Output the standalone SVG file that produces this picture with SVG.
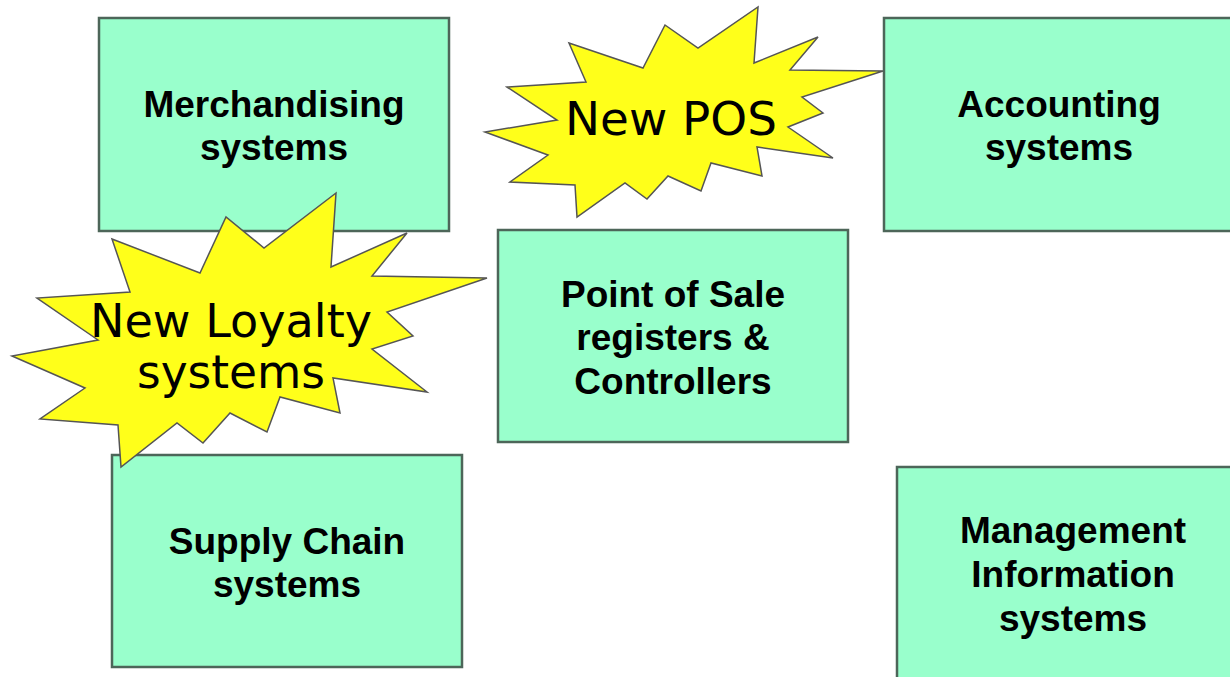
<svg xmlns="http://www.w3.org/2000/svg" width="1230" height="677" viewBox="0 0 1230 677">
<style>
.box{fill:#99FFCC;stroke:#4d6659;stroke-width:2.5}
.lbl{font-family:"Liberation Sans",Arial,sans-serif;font-weight:bold;font-size:37px;fill:#000;text-anchor:middle}
.burst{fill:#FFFF1A;stroke:#555;stroke-width:1.5;stroke-linejoin:miter}
.bt{font-family:"Comic Sans MS","DejaVu Sans",sans-serif;font-size:46px;fill:#000;text-anchor:middle}
</style>
<rect width="1230" height="677" fill="#fff"/>
<g id="merchandising">
<rect class="box" x="99" y="18" width="350" height="213"/>
<text class="lbl" x="274" y="117">Merchandising</text>
<text class="lbl" x="274" y="160">systems</text>
</g>
<g id="accounting">
<rect class="box" x="884" y="18" width="352" height="213"/>
<text class="lbl" x="1059" y="117">Accounting</text>
<text class="lbl" x="1059" y="160">systems</text>
</g>
<g id="pos">
<rect class="box" x="498" y="230" width="350" height="212"/>
<text class="lbl" x="673" y="307">Point of Sale</text>
<text class="lbl" x="673" y="350">registers &amp;</text>
<text class="lbl" x="673" y="394">Controllers</text>
</g>
<g id="supply-chain">
<rect class="box" x="112" y="455" width="350" height="212"/>
<text class="lbl" x="287" y="554">Supply Chain</text>
<text class="lbl" x="287" y="597">systems</text>
</g>
<g id="management">
<rect class="box" x="897" y="467" width="352" height="220"/>
<text class="lbl" x="1073" y="543">Management</text>
<text class="lbl" x="1073" y="587">Information</text>
<text class="lbl" x="1073" y="631">systems</text>
</g>
<g id="new-pos">
<polygon class="burst" points="569,43 643,68 665,25 698,48 758,7 754,63 818,37 790,70 883,71 802,97 823,113 788,127 833,158 757,147 762,176 711,163 701,191 668,176 647,199 625,183 577,217 575,185 510,182 548,155 485,132 557,120 507,87 586,82"/>
<text class="bt" x="671" y="135" textLength="212" lengthAdjust="spacingAndGlyphs">New POS</text>
</g>
<g id="new-loyalty">
<polygon class="burst" points="112,239 200,273 226,217 264,248 336,193 331,267 407,233 372,276 487,278 387,312 413,336 372,349 427,392 333,378 340,413 280,397 267,432 230,413 203,443 177,423 121,467 118,425 40,419 85,388 12,356 98,340 37,298 130,292"/>
<text class="bt" x="231" y="337" textLength="282" lengthAdjust="spacingAndGlyphs">New Loyalty</text>
<text class="bt" x="231" y="388" textLength="188" lengthAdjust="spacingAndGlyphs">systems</text>
</g>
<g id="connectors"></g>
</svg>
